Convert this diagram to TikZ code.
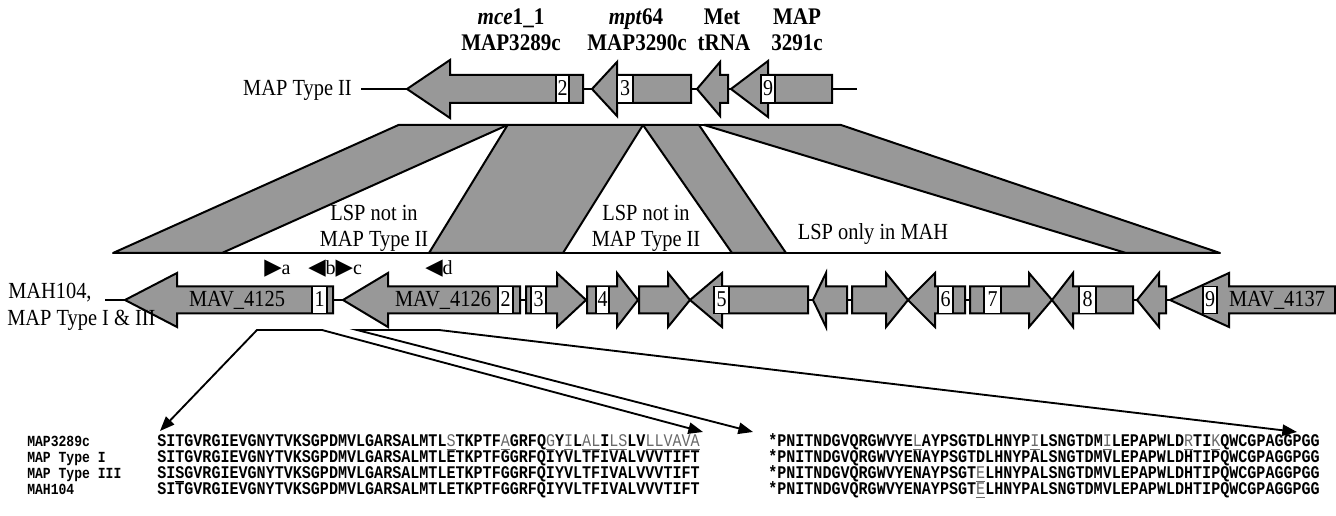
\documentclass[tikz,border=0pt]{standalone}
\usepackage{fontspec}
\setmainfont{Liberation Serif}
\setmonofont{Liberation Mono}
\newfontfamily\MkrFont{DejaVu Sans}
\usetikzlibrary{arrows.meta}
\definecolor{genegray}{RGB}{152,152,152}
\definecolor{difgray}{RGB}{105,105,105}
% gene arrow: tip, head base, end, y, head half height, body half height
\newcommand{\GeneArrow}[6]{\draw[gene] (#1,#4) -- (#2,#4-#5) -- (#2,#4-#6) -- (#3,#4-#6) -- (#3,#4+#6) -- (#2,#4+#6) -- (#2,#4+#5) -- cycle;}
% numbered box: x1, x2, y, half height, label, name
\newcommand{\GBox}[6]{\draw[numbox] (#1,#3-#4) rectangle (#2,#3+#4); \node[num] (#6) at ({(#1+#2)/2},#3+7) {\VS{#5}};}
\newcommand{\VS}[1]{\scalebox{1}[1.13]{#1}}
\newcommand{\VT}[1]{\scalebox{1}[1.18]{#1}}
\newcommand{\DifRes}[1]{{\mdseries\color{difgray}\underline{#1}}}
\newcommand{\UlRes}[1]{\underline{#1}}
\begin{document}
\begin{tikzpicture}[x=0.75pt,y=-0.75pt,
  gene/.style={draw=black,fill=genegray,line width=1.5pt,line join=miter,miter limit=20},
  numbox/.style={draw=black,fill=white,line width=1.2pt},
  band/.style={draw=black,fill=genegray,line width=1.5pt,line join=round},
  chrom/.style={line width=1.5pt},
  lbl/.style={font=\fontsize{15.3}{19}\selectfont,inner sep=0pt,anchor=base},
  toplbl/.style={font=\fontsize{15.8}{19}\selectfont\bfseries,inner sep=0pt,anchor=base},
  num/.style={font=\fontsize{15}{15}\selectfont,inner sep=0pt,anchor=base},
  mkr/.style={font=\fontsize{15}{15}\selectfont,inner sep=0pt,anchor=base west},
  connarrow/.style={line width=1.4pt,-{Triangle[length=11pt,width=8.5pt]}},
  seqlbl/.style={font=\fontsize{9.8}{10}\selectfont\ttfamily\bfseries,anchor=base west,inner sep=0pt},
  seq/.style={font=\fontsize{11.3}{12}\selectfont\ttfamily\bfseries,anchor=base west,inner sep=0pt}
]
\useasboundingbox (0,0) rectangle (1336,516);
\fill[white] (0,0) rectangle (1336,516);

% ---------- top labels ----------
\node[toplbl] (l1a) at (511,25) {\VS{\textit{mce}1\_1}};
\node[toplbl] (l1b) at (511,51) {\VS{MAP3289c}};
\node[toplbl] (l2a) at (636,25) {\VS{\textit{mpt}64}};
\node[toplbl] (l2b) at (637,51) {\VS{MAP3290c}};
\node[toplbl] (l3a) at (722,25) {\VS{Met}};
\node[toplbl] (l3b) at (724,51) {\VS{tRNA}};
\node[toplbl] (l4a) at (797,25) {\VS{MAP}};
\node[toplbl] (l4b) at (797,51) {\VS{3291c}};

% ---------- MAP Type II track ----------
\node[lbl,anchor=base east] (typeII) at (352,96) {\VS{MAP Type II}};
\draw[chrom] (361,89) -- (857,89);
\GeneArrow{407}{450}{583}{89}{29}{14}
\GBox{556}{569}{89}{14}{2}{t2}
\GeneArrow{592}{617}{691}{89}{27}{14}
\GBox{617}{633}{89}{14}{3}{t3}
\GeneArrow{697}{720}{728}{89}{27}{14}
\GeneArrow{731}{768}{832}{89}{28}{14}
\GBox{761}{775}{89}{14}{9}{t9}

% ---------- synteny bands ----------
\draw[band] (398.5,125) -- (507.6,125) -- (222,253) -- (113,253) -- cycle;
\draw[band] (507.6,125) -- (643,125) -- (563,253) -- (429,253) -- cycle;
\draw[band] (643,125) -- (699,125) -- (786,253) -- (732,253) -- cycle;
\draw[band] (704,125) -- (841,125) -- (1220,253) -- (1126,253) -- cycle;
\draw[chrom] (398.5,125) -- (841,125);
\draw[chrom] (113,253) -- (1220,253);
\node[lbl] (lsp1a) at (374,221) {\VS{LSP not in}};
\node[lbl] (lsp1b) at (374,247) {\VS{MAP Type II}};
\node[lbl] (lsp2a) at (646,221) {\VS{LSP not in}};
\node[lbl] (lsp2b) at (646,247) {\VS{MAP Type II}};
\node[lbl] (lsp3) at (873,240) {\VS{LSP only in MAH}};

% ---------- markers ----------
\node[mkr] (ma) at (264,275) {{\MkrFont\fontsize{17}{17}\selectfont ▶}a};
\node[mkr] (mbc) at (308,275) {{\MkrFont\fontsize{17}{17}\selectfont ◀}b{\MkrFont\fontsize{17}{17}\selectfont ▶}c};
\node[mkr] (md) at (425,275) {{\MkrFont\fontsize{17}{17}\selectfont ◀}d};

% ---------- MAH104 track ----------
\draw[chrom] (105,300) -- (1170,300);
\GeneArrow{125}{177}{333}{300}{27}{13.5}
\GBox{312}{327}{300}{13.5}{1}{b1}
\GeneArrow{343}{388}{520}{300}{27}{13.5}
\GBox{498}{513}{300}{13.5}{2}{b2}
\GeneArrow{586}{557}{526}{300}{27}{13.5}
\GBox{531}{546}{300}{13.5}{3}{b3}
\GeneArrow{638}{617}{587}{300}{27}{13.5}
\GBox{596}{609}{300}{13.5}{4}{b4}
\GeneArrow{690}{668}{639}{300}{27}{13.5}
\GeneArrow{690}{722}{808}{300}{27}{13.5}
\GBox{714}{729}{300}{13.5}{5}{b5}
\GeneArrow{813}{826}{847}{300}{27}{13.5}
\GeneArrow{908}{886}{852}{300}{27}{13.5}
\GeneArrow{908}{935}{965}{300}{27}{13.5}
\GBox{938}{953}{300}{13.5}{6}{b6}
\GeneArrow{1052}{1029}{970}{300}{27}{13.5}
\GBox{984}{1001}{300}{13.5}{7}{b7}
\GeneArrow{1052}{1073}{1133}{300}{27}{13.5}
\GBox{1079}{1096}{300}{13.5}{8}{b8}
\GeneArrow{1137}{1159}{1166}{300}{27}{13.5}
\GeneArrow{1170}{1229}{1335}{300}{27}{13.5}
\GBox{1203}{1217}{300}{13.5}{9}{b9}
\node[lbl] (g4125) at (237,307) {\VS{MAV\_4125}};
\node[lbl] (g4126) at (443,307) {\VS{MAV\_4126}};
\node[lbl] (g4137) at (1277,307) {\VS{MAV\_4137}};
\node[lbl,anchor=base west] (mah) at (8,299) {\VS{MAH104,}};
\node[lbl,anchor=base west] (mapI) at (7,326) {\VS{MAP Type I \& III}};

% ---------- sequences ----------
\node[seqlbl] (r1) at (27,447) {\VT{MAP3289c}};
\node[seqlbl] (r2) at (27,463) {\VT{MAP Type I}};
\node[seqlbl] (r3) at (27,479) {\VT{MAP Type III}};
\node[seqlbl] (r4) at (27,495) {\VT{MAH104}};
\node[seq] (s1a) at (157,447) {\VT{SITGVRGIEVGNYTVKSGPDMVLGARSALMTL\DifRes{S}TKPTF\DifRes{A}GRFQ\DifRes{G}Y\DifRes{I}L\DifRes{AL}I\DifRes{LS}LV\DifRes{LLVAVA}}};
\node[seq] (s2a) at (157,463) {\VT{SITGVRGIEVGNYTVKSGPDMVLGARSALMTLETKPTFGGRFQIYVLTFIVALVVVTIFT}};
\node[seq] (s3a) at (157,479) {\VT{SI\UlRes{S}GVRGIEVGNYTVKSGPDMVLGARSALMTLETKPTFGGRFQIYVLTFIVALVVVTIFT}};
\node[seq] (s4a) at (157,495) {\VT{SITGVRGIEVGNYTVKSGPDMVLGARSALMTLETKPTFGGRFQIYVLTFIVALVVVTIFT}};
\node[seq] (s1b) at (768,447) {\VT{*PNITNDGVQRGWVYE\DifRes{L}AYPSGTDLHNYP\DifRes{I}LSNGTDM\DifRes{I}LEPAPWLD\DifRes{R}TI\DifRes{K}QWCGPAGGPGG}};
\node[seq] (s2b) at (768,463) {\VT{*PNITNDGVQRGWVYENAYPSGTDLHNYPALSNGTDMVLEPAPWLDHTIPQWCGPAGGPGG}};
\node[seq] (s3b) at (768,479) {\VT{*PNITNDGVQRGWVYENAYPSGT\DifRes{E}LHNYPALSNGTDMVLEPAPWLDHTIPQWCGPAGGPGG}};
\node[seq] (s4b) at (768,495) {\VT{*PNITNDGVQRGWVYENAYPSGT\DifRes{E}LHNYPALSNGTDMVLEPAPWLDHTIPQWCGPAGGPGG}};

% ---------- connectors ----------
\coordinate (brA1) at (257,330);
\coordinate (brA2) at (322,330);
\coordinate (brB1) at (357,330);
\coordinate (brB2) at (439,330);
\coordinate (tip1) at (160,431);
\coordinate (tip2) at (703,432);
\coordinate (tip3) at (753,432);
\coordinate (tip4) at (1297,432);
\draw[connarrow] (brA2) -- (brA1) -- (tip1);
\draw[connarrow] (brA2) -- (tip2);
\draw[connarrow] (brB2) -- (brB1) -- (tip3);
\draw[connarrow] (brB2) -- (tip4);
\end{tikzpicture}
\end{document}
